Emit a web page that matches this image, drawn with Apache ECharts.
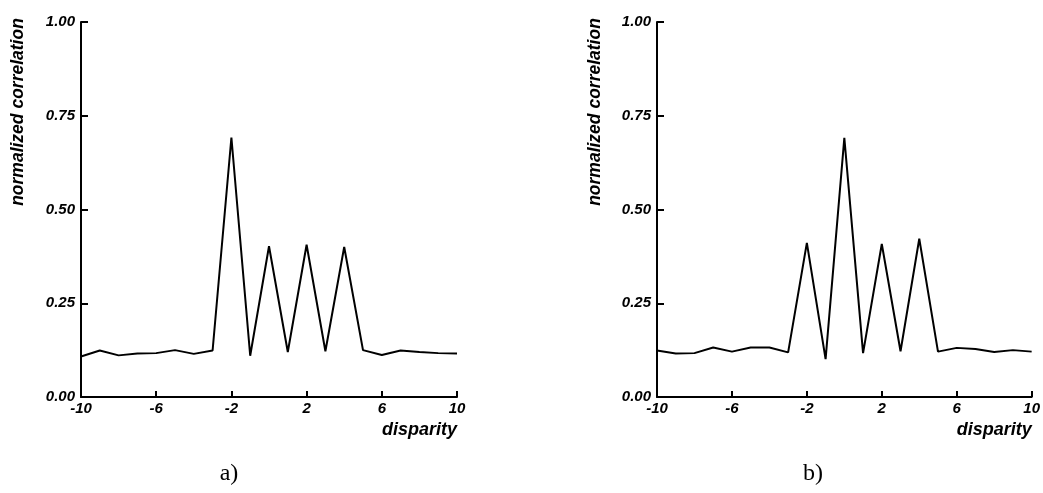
<!DOCTYPE html>
<html>
<head>
<meta charset="utf-8">
<script src="https://cdn.jsdelivr.net/npm/echarts@6/dist/echarts.min.js"></script>
<style>
  html, body { margin: 0; padding: 0; background: #fff; }
  #main { width: 1043px; height: 493px; }
</style>
</head>
<body>
<div id="main"></div>
<script>
// disparity values (x)
var disparity = [-10, -9, -8, -7, -6, -5, -4, -3, -2, -1, 0, 1, 2, 3, 4, 5, 6, 7, 8, 9, 10];
// normalized correlation, panel a)
var corrA = [0.108, 0.124, 0.111, 0.116, 0.117, 0.125, 0.115, 0.124, 0.692, 0.110, 0.402,
             0.120, 0.406, 0.122, 0.400, 0.125, 0.112, 0.124, 0.120, 0.117, 0.116];
// normalized correlation, panel b)
var corrB = [0.124, 0.116, 0.117, 0.132, 0.121, 0.132, 0.132, 0.119, 0.411, 0.101, 0.691,
             0.117, 0.408, 0.122, 0.422, 0.121, 0.131, 0.128, 0.120, 0.125, 0.121];
var panelLabels = ['a)', 'b)'];
var yName = 'normalized correlation';
var xName = 'disparity';

var lblFont = {
    fontFamily: 'Liberation Sans',
    fontWeight: 'bold',
    fontStyle: 'italic',
    color: '#000'
};

function pairs(ys) {
    return disparity.map(function (x, i) { return [x, ys[i]]; });
}

function makeX(idx) {
    return {
        type: 'value',
        gridIndex: idx,
        min: -10,
        max: 10,
        interval: 4,
        name: xName,
        nameLocation: 'end',
        nameGap: 0,
        nameTextStyle: Object.assign({}, lblFont, {
            fontSize: 18, align: 'right', verticalAlign: 'top', padding: [24, 0, 0, 0]
        }),
        axisLine: { onZero: false, lineStyle: { color: '#000', width: 2 } },
        axisTick: { inside: true, length: 6, lineStyle: { color: '#000', width: 2 } },
        axisLabel: Object.assign({}, lblFont, { fontSize: 15, margin: 4 }),
        splitLine: { show: false }
    };
}

function makeY(idx) {
    return {
        type: 'value',
        gridIndex: idx,
        min: 0,
        max: 1,
        interval: 0.25,
        axisLine: { show: true, onZero: false, lineStyle: { color: '#000', width: 2 } },
        axisTick: { show: true, inside: true, length: 7, lineStyle: { color: '#000', width: 2 } },
        axisLabel: Object.assign({}, lblFont, {
            fontSize: 15, margin: 6,
            formatter: function (v) { return v.toFixed(2); }
        }),
        splitLine: { show: false }
    };
}

function yTitle(x) {
    return {
        type: 'text', x: x, y: 112, rotation: Math.PI / 2,
        style: {
            text: yName, fontSize: 17.5, fontFamily: 'Liberation Sans', fontWeight: 'bold', fontStyle: 'italic',
            textAlign: 'center', textVerticalAlign: 'middle', fill: '#000'
        }
    };
}

function panelTitle(x, txt) {
    return {
        type: 'text', x: x, y: 474,
        style: { text: txt, fontSize: 24, fontFamily: 'Liberation Serif', textAlign: 'center', textVerticalAlign: 'middle', fill: '#000' }
    };
}

var chart = echarts.init(document.getElementById('main'));
chart.setOption({
    animation: false,
    backgroundColor: '#fff',
    grid: [
        { left: 81, top: 22, width: 376, height: 375 },
        { left: 657, top: 22, width: 376, height: 375 }
    ],
    xAxis: [makeX(0), makeX(1)],
    yAxis: [makeY(0), makeY(1)],
    graphic: [
        yTitle(18),
        yTitle(595),
        panelTitle(229, panelLabels[0]),
        panelTitle(813, panelLabels[1])
    ],
    series: [
        { type: 'line', xAxisIndex: 0, yAxisIndex: 0, data: pairs(corrA), symbol: 'none',
          lineStyle: { color: '#000', width: 2 } },
        { type: 'line', xAxisIndex: 1, yAxisIndex: 1, data: pairs(corrB), symbol: 'none',
          lineStyle: { color: '#000', width: 2 } }
    ]
});
</script>
</body>
</html>
